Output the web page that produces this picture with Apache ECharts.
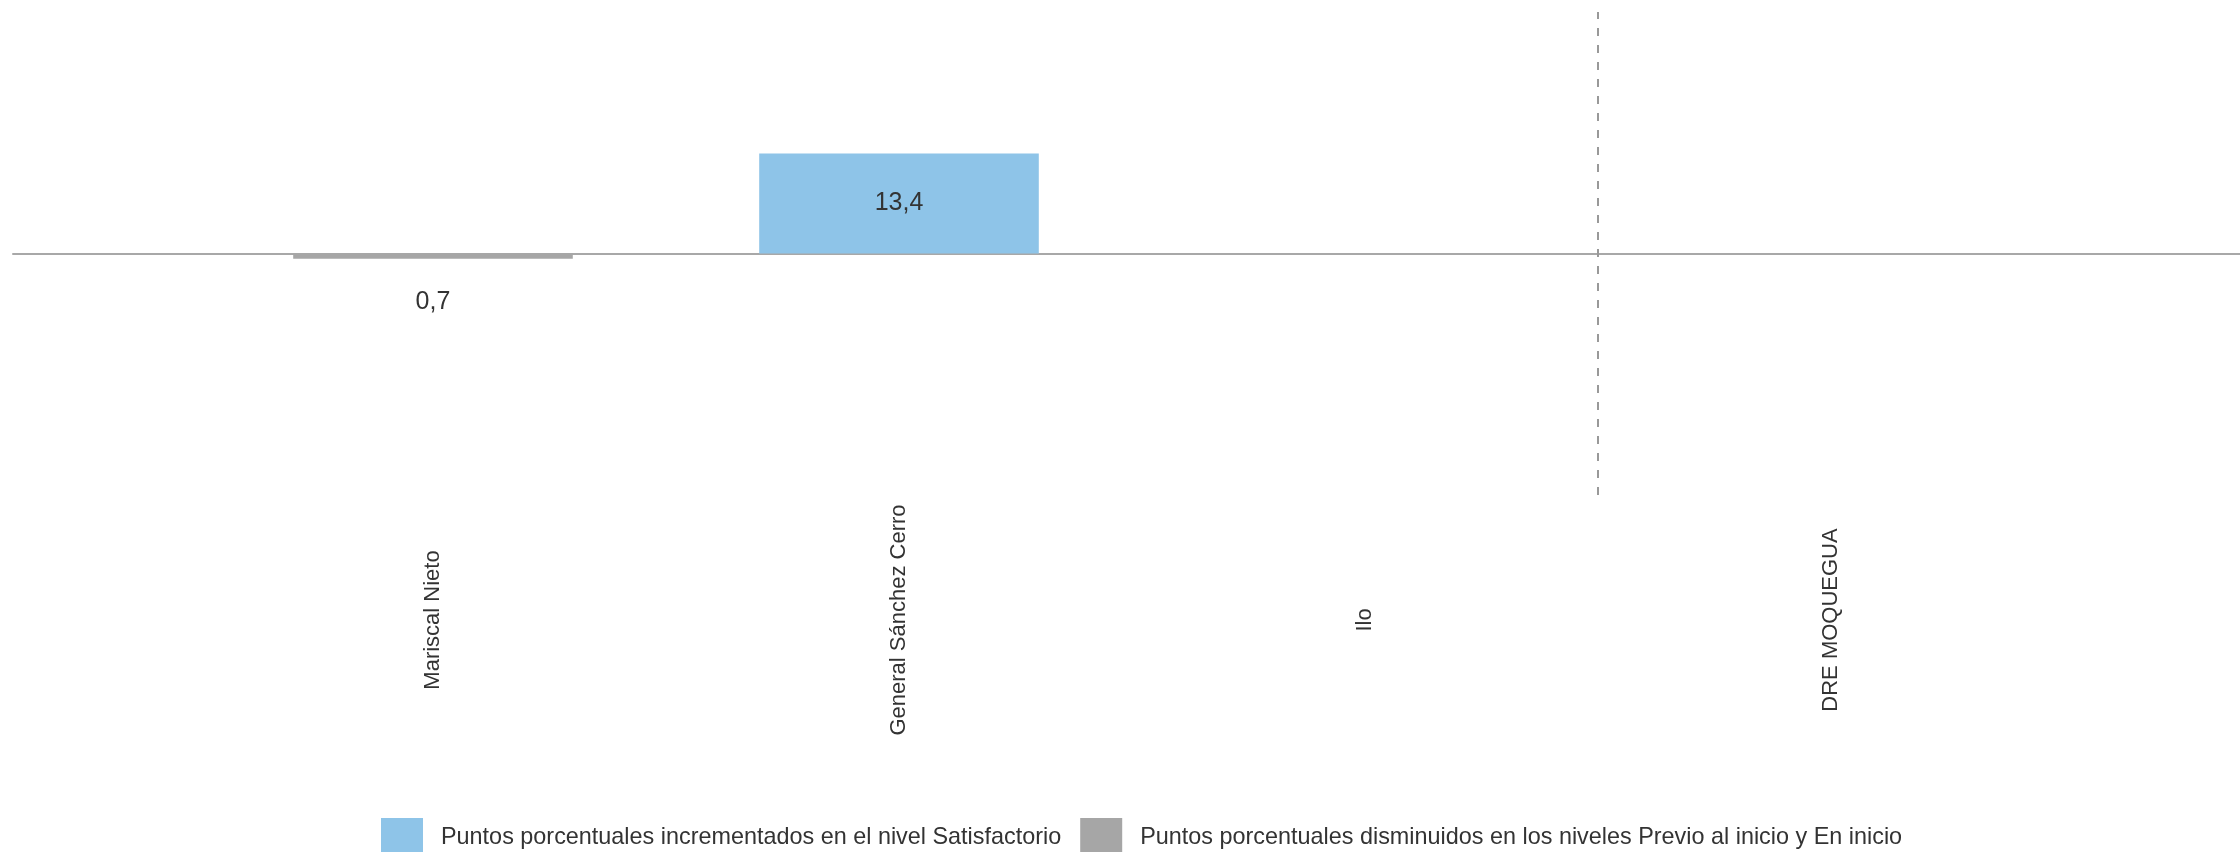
<!DOCTYPE html>
<html>
<head>
<meta charset="utf-8">
<script src="https://cdn.jsdelivr.net/npm/echarts@6/dist/echarts.min.js"></script>
<style>
html,body{margin:0;padding:0;background:#fff;}
#chart{width:2240px;height:852px;}
</style>
</head>
<body>
<div id="chart"></div>
<script>
const categories = ['Mariscal Nieto', 'General Sánchez Cerro', 'Ilo', 'DRE MOQUEGUA'];
const incrementados = [null, 13.4, null, null];
const disminuidos = [-0.7, null, null, null];
const seriesNames = [
  'Puntos porcentuales incrementados en el nivel Satisfactorio',
  'Puntos porcentuales disminuidos en los niveles Previo al inicio y En inicio'
];
// separator between the provinces and the regional total (boundary before category index 3)
const separatorAt = [3];

const FONT = "'Liberation Sans', Arial, sans-serif";
const fmt = p => Math.abs(p.value).toFixed(1).replace('.', ',');

const chart = echarts.init(document.getElementById('chart'), null, {renderer: 'canvas'});
chart.setOption({
  backgroundColor: '#ffffff',
  animation: false,
  textStyle: {fontFamily: FONT},
  grid: [
    {left: 200, width: 1864, top: 12, height: 483},
    {left: 13, right: 0, top: 12, height: 483}
  ],
  xAxis: [
    {
      type: 'category', gridIndex: 0, data: categories,
      axisLine: {show: false}, axisTick: {show: false},
      axisLabel: {
        rotate: 90, align: 'center', verticalAlign: 'middle', margin: 125,
        fontSize: 22, color: '#333333', fontFamily: FONT, interval: 0
      },
      splitLine: {show: false}
    },
    {
      type: 'category', gridIndex: 1, data: [''],
      axisLine: {show: true, onZero: true, lineStyle: {color: '#a8a8a8', width: 2}},
      axisTick: {show: false}, axisLabel: {show: false}, splitLine: {show: false}
    },
    {
      type: 'value', gridIndex: 0, min: 0, max: categories.length, show: false
    }
  ],
  yAxis: [
    {type: 'value', gridIndex: 0, min: -32.4, max: 32.4, show: false},
    {type: 'value', gridIndex: 1, min: -32.4, max: 32.4, show: false}
  ],
  legend: {
    left: 376, top: 813, itemWidth: 42, itemHeight: 40, itemGap: 19,
    icon: 'rect',
    textStyle: {fontSize: 23.4, color: '#333333', fontFamily: FONT, padding: [0, 0, 0, 13]},
    data: seriesNames
  },
  series: [
    {
      name: seriesNames[0], type: 'bar', xAxisIndex: 0, yAxisIndex: 0,
      data: incrementados, barWidth: '60%', barGap: '-100%',
      itemStyle: {color: '#8EC4E8'},
      label: {show: true, position: 'inside', fontSize: 25, color: '#333333', fontFamily: FONT, formatter: fmt}
    },
    {
      name: seriesNames[1], type: 'bar', xAxisIndex: 0, yAxisIndex: 0,
      data: disminuidos, barWidth: '60%', barGap: '-100%',
      itemStyle: {color: '#A6A6A6'},
      label: {show: true, position: 'outside', distance: 31, fontSize: 25, color: '#333333', fontFamily: FONT, formatter: fmt}
    },
    {
      name: 'separator', type: 'line', xAxisIndex: 2, yAxisIndex: 0, data: [],
      silent: true,
      markLine: {
        silent: true, symbol: 'none', label: {show: false},
        lineStyle: {color: '#999999', width: 2, type: [8, 9]},
        data: separatorAt.map(v => ({xAxis: v}))
      }
    }
  ]
});
</script>
</body>
</html>
